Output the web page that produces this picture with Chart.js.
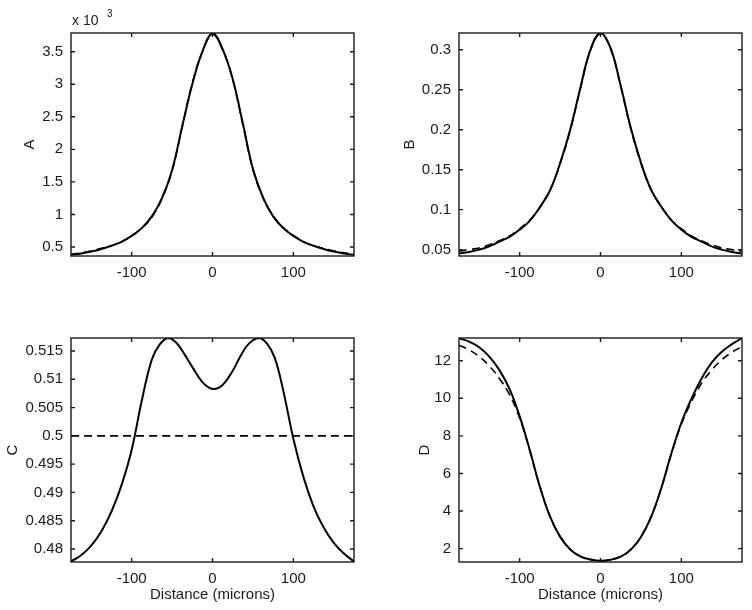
<!DOCTYPE html>
<html>
<head>
<meta charset="utf-8">
<script src="https://cdn.jsdelivr.net/npm/chart.js@4.4.0/dist/chart.umd.min.js"></script>
<style>
body { margin: 0; background: #fff; }
#wrap { position: relative; width: 752px; height: 610px; }
canvas { position: absolute; }
</style>
</head>
<body>
<div id="wrap">
<canvas id="cvA" width="376" height="295" style="left:0;top:0"></canvas>
<canvas id="cvB" width="376" height="295" style="left:376px;top:0"></canvas>
<canvas id="cvC" width="376" height="315" style="left:0;top:295px"></canvas>
<canvas id="cvD" width="376" height="315" style="left:376px;top:295px"></canvas>
</div>
<script>

// distance (microns) used by panels A, B and D
const distance = [-175, -162.5, -150, -137.5, -125, -112.5, -100, -87.5, -75, -62.5, -50, -37.5, -25, -12.5, 0,
                  12.5, 25, 37.5, 50, 62.5, 75, 87.5, 100, 112.5, 125, 137.5, 150, 162.5, 175];

// panel A (x 10^3)
const aSolid  = [0.38, 0.40, 0.43, 0.47, 0.52, 0.58, 0.67, 0.79, 0.97, 1.25, 1.68, 2.35, 3.00, 3.50, 3.78,
                 3.54, 3.08, 2.40, 1.70, 1.26, 0.97, 0.79, 0.67, 0.58, 0.52, 0.47, 0.43, 0.40, 0.38];
const aDashed = [0.39, 0.41, 0.44, 0.48, 0.52, 0.58, 0.67, 0.79, 0.96, 1.24, 1.67, 2.34, 3.02, 3.50, 3.77,
                 3.53, 3.07, 2.38, 1.69, 1.26, 0.98, 0.80, 0.68, 0.58, 0.52, 0.48, 0.44, 0.41, 0.39];

// panel B
const bSolid  = [0.045, 0.047, 0.050, 0.054, 0.060, 0.066, 0.075, 0.086, 0.103, 0.124, 0.158, 0.200, 0.252, 0.300, 0.321,
                 0.302, 0.255, 0.202, 0.159, 0.125, 0.104, 0.087, 0.075, 0.066, 0.060, 0.054, 0.050, 0.047, 0.045];
const bDashed = [0.048, 0.050, 0.052, 0.056, 0.061, 0.067, 0.076, 0.087, 0.103, 0.124, 0.157, 0.199, 0.251, 0.299, 0.320,
                 0.301, 0.254, 0.201, 0.158, 0.125, 0.104, 0.087, 0.076, 0.067, 0.061, 0.056, 0.052, 0.050, 0.048];

// panel C has its own sampling (two humps)
const cDistance = [-175, -162.5, -150, -137.5, -125, -112.5, -100, -87.5, -75, -65, -55, -45, -35, -25, -12.5, 0,
                   12.5, 25, 35, 45, 57, 67, 77, 87.5, 100, 112.5, 125, 137.5, 150, 162.5, 175];
const cSolid = [0.4778, 0.4789, 0.4806, 0.4831, 0.4866, 0.4913, 0.4975, 0.5062, 0.5135, 0.5162, 0.5173, 0.5165, 0.5145, 0.5122, 0.5095, 0.5083,
                0.5090, 0.5115, 0.5142, 0.5163, 0.5173, 0.5164, 0.5138, 0.5080, 0.4995, 0.4927, 0.4875, 0.4838, 0.4811, 0.4792, 0.4778];
const cDashedX = [-175, 175];
const cDashed  = [0.5, 0.5];

// panel D
const dSolid  = [13.2, 13.02, 12.72, 12.22, 11.5, 10.5, 9.05, 7.25, 5.3, 3.72, 2.64, 1.96, 1.59, 1.42, 1.35,
                 1.41, 1.58, 1.95, 2.62, 3.68, 5.2, 7.05, 8.7, 9.98, 11.05, 11.9, 12.48, 12.88, 13.2];
const dDashed = [12.83, 12.58, 12.22, 11.72, 11.05, 10.2, 8.95, 7.22, 5.3, 3.72, 2.64, 1.96, 1.59, 1.42, 1.35,
                 1.41, 1.58, 1.95, 2.62, 3.68, 5.2, 7.02, 8.62, 9.82, 10.8, 11.5, 12.05, 12.45, 12.75];

// tick labels
const xTicks = [-100, 0, 100];
const aTicks = [0.5, 1, 1.5, 2, 2.5, 3, 3.5];
const bTicks = [0.05, 0.1, 0.15, 0.2, 0.25, 0.3];
const cTicks = [0.48, 0.485, 0.49, 0.495, 0.5, 0.505, 0.51, 0.515];
const dTicks = [2, 4, 6, 8, 10, 12];

const FONT = "'Liberation Sans', Arial, Helvetica, sans-serif";
const INK = '#1a1a1a';

// box round the plot with inward ticks on all four sides
const framePlugin = {
    id: 'frame',
    afterDatasetsDraw(chart) {
        const { ctx, chartArea: a, scales } = chart;
        ctx.save();
        ctx.strokeStyle = INK;
        ctx.lineWidth = 1.4;
        ctx.strokeRect(a.left, a.top, a.right - a.left, a.bottom - a.top);
        ctx.beginPath();
        scales.x.ticks.forEach(t => {
            const px = scales.x.getPixelForValue(t.value);
            ctx.moveTo(px, a.bottom); ctx.lineTo(px, a.bottom - 4);
            ctx.moveTo(px, a.top); ctx.lineTo(px, a.top + 4);
        });
        scales.y.ticks.forEach(t => {
            const py = scales.y.getPixelForValue(t.value);
            ctx.moveTo(a.left, py); ctx.lineTo(a.left + 4, py);
            ctx.moveTo(a.right, py); ctx.lineTo(a.right - 4, py);
        });
        ctx.stroke();
        ctx.restore();
    }
};

// "x 10^3" note above panel A
const exponentNote = {
    id: 'exponentNote',
    afterDraw(chart) {
        const ctx = chart.ctx;
        const a = chart.chartArea;
        ctx.save();
        ctx.fillStyle = INK;
        ctx.textBaseline = 'alphabetic';
        ctx.font = '14px ' + FONT;
        ctx.fillText('x 10', a.left + 1, a.top - 8);
        ctx.font = '10px ' + FONT;
        ctx.fillText('3', a.left + 36, a.top - 16);
        ctx.restore();
    }
};

function points(xs, ys) {
    return xs.map((v, i) => ({ x: v, y: ys[i] }));
}

function makePanel(id, box, solidX, solid, dashX, dashed, yMin, yMax, yTicks, yLabel, yLabelPad, xLabel, extra) {

    const canvas = document.getElementById(id);

    new Chart(canvas, {
        type: 'line',
        data: {
            datasets: [
                { data: points(solidX, solid), borderColor: '#000', borderWidth: 2, pointRadius: 0, tension: 0.4 },
                { data: points(dashX, dashed), borderColor: '#000', borderWidth: 1.6, borderDash: [8, 5],
                  pointRadius: 0, tension: 0.4 }
            ]
        },
        options: {
            responsive: false,
            animation: false,
            events: [],
            layout: { padding: { top: box.top, right: canvas.width - box.right, left: 0, bottom: 0 } },
            plugins: { legend: { display: false }, tooltip: { enabled: false } },
            scales: {
                x: {
                    type: 'linear', min: -175, max: 175,
                    grid: { display: false, drawTicks: false },
                    border: { display: false },
                    afterBuildTicks: s => { s.ticks = xTicks.map(v => ({ value: v })); },
                    afterFit: s => { s.height = canvas.height - box.bottom; },
                    ticks: { padding: 8, color: INK, font: { family: FONT, size: 15 }, maxRotation: 0, autoSkip: false },
                    title: { display: !!xLabel, text: xLabel || '', color: INK,
                             font: { family: FONT, size: 15 }, padding: { top: 0, bottom: 6 } }
                },
                y: {
                    type: 'linear', min: yMin, max: yMax,
                    grid: { display: false, drawTicks: false },
                    border: { display: false },
                    afterBuildTicks: s => { s.ticks = yTicks.map(v => ({ value: v })); },
                    afterFit: s => { s.width = box.left; },
                    ticks: { padding: 8, color: INK, font: { family: FONT, size: 15 }, autoSkip: false,
                             callback: v => String(+v.toFixed(4)) },
                    title: { display: true, text: yLabel, color: INK,
                             font: { family: FONT, size: 15 }, padding: { top: yLabelPad, bottom: 0 } }
                }
            }
        },
        plugins: extra ? [framePlugin, extra] : [framePlugin]
    });
}

makePanel('cvA', { left: 71, top: 33, right: 354, bottom: 256 }, distance, aSolid, distance, aDashed,
          0.362, 3.787, aTicks, 'A', 21, null, exponentNote);
makePanel('cvB', { left: 83, top: 33, right: 366, bottom: 256 }, distance, bSolid, distance, bDashed,
          0.042, 0.321, bTicks, 'B', 25, null, null);
makePanel('cvC', { left: 71, top: 43, right: 354, bottom: 267 }, cDistance, cSolid, cDashedX, cDashed,
          0.4777, 0.5173, cTicks, 'C', 4, 'Distance (microns)', null);
makePanel('cvD', { left: 83, top: 43, right: 366, bottom: 267 }, distance, dSolid, distance, dDashed,
          1.29, 13.21, dTicks, 'D', 40, 'Distance (microns)', null);
</script>
</body>
</html>
